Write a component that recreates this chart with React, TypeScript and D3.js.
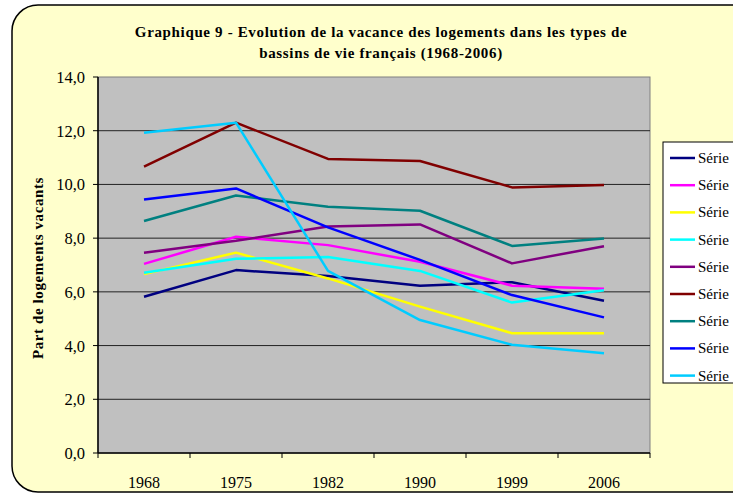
import { useEffect, useRef } from 'react';
import * as d3 from 'd3';

const years = ['1968', '1975', '1982', '1990', '1999', '2006'];
// libellés tronqués par le bord droit dans l'original : seul "Série" est visible
const seriesNames = ['Série', 'Série', 'Série', 'Série', 'Série', 'Série', 'Série', 'Série', 'Série'];
const serie1 = [5.82, 6.81, 6.59, 6.23, 6.36, 5.67];
const serie2 = [7.04, 8.05, 7.74, 7.12, 6.23, 6.12];
const serie3 = [6.66, 7.46, 6.5, 5.45, 4.46, 4.46];
const serie4 = [6.71, 7.23, 7.3, 6.78, 5.6, 6.06];
const serie5 = [7.46, 7.9, 8.43, 8.51, 7.06, 7.7];
const serie6 = [10.66, 12.3, 10.95, 10.87, 9.89, 9.98];
const serie7 = [8.64, 9.59, 9.17, 9.02, 7.71, 7.99];
const serie8 = [9.44, 9.85, 8.4, 7.19, 5.88, 5.05];
const serie9 = [11.92, 12.3, 6.78, 4.95, 4.03, 3.71];
const colors = ['#000080', '#ff00ff', '#ffff00', '#00ffff', '#800080', '#800000', '#008080', '#0000ff', '#00ccff'];
const yTicks = [0, 2, 4, 6, 8, 10, 12, 14];

export default function App() {
  const svgRef = useRef<SVGSVGElement>(null);
  const width = 733;
  const height = 495;

  useEffect(() => {
    const svg = d3.select(svgRef.current);
    svg.selectAll('*').remove();

    const allSeries = [serie1, serie2, serie3, serie4, serie5, serie6, serie7, serie8, serie9];
    const left = 98, right = 650, top = 77, bottom = 453;
    const serif = '"Liberation Serif", "Times New Roman", serif';

    // cadre arrondi
    svg.append('rect')
      .attr('x', 12).attr('y', 5)
      .attr('width', 745).attr('height', 487)
      .attr('rx', 26)
      .style('fill', '#ffffcc')
      .style('stroke', '#000')
      .style('stroke-width', 1.5);

    const x = d3.scaleBand<string>().domain(years).range([left, right]);
    const y = d3.scaleLinear().domain([0, 14]).range([bottom, top]);

    svg.append('rect')
      .attr('x', left).attr('y', top)
      .attr('width', right - left).attr('height', bottom - top)
      .style('fill', '#c0c0c0')
      .style('stroke', '#808080')
      .style('stroke-width', 1);

    // grille
    svg.append('g')
      .selectAll('line')
      .data(yTicks.filter(d => d > 0 && d < 14))
      .enter()
      .append('line')
      .attr('x1', left).attr('x2', right)
      .attr('y1', d => y(d)).attr('y2', d => y(d))
      .style('stroke', '#222')
      .style('stroke-width', 1);

    // axe Y
    svg.append('line')
      .attr('x1', left).attr('x2', left)
      .attr('y1', top).attr('y2', bottom)
      .style('stroke', '#000').style('stroke-width', 1.5);
    svg.append('g')
      .selectAll('line')
      .data(yTicks)
      .enter()
      .append('line')
      .attr('x1', left - 5).attr('x2', left)
      .attr('y1', d => y(d)).attr('y2', d => y(d))
      .style('stroke', '#000');
    svg.append('g')
      .selectAll('text')
      .data(yTicks)
      .enter()
      .append('text')
      .attr('x', left - 13)
      .attr('y', d => y(d) + 6)
      .attr('text-anchor', 'end')
      .style('font-family', serif)
      .style('font-size', '16.5px')
      .text(d => d3.format('.1f')(d).replace('.', ','));

    // axe X
    svg.append('line')
      .attr('x1', left).attr('x2', right)
      .attr('y1', bottom).attr('y2', bottom)
      .style('stroke', '#000').style('stroke-width', 1.5);
    const bounds = [...years.map(d => x(d) as number), right];
    svg.append('g')
      .selectAll('line')
      .data(bounds)
      .enter()
      .append('line')
      .attr('x1', d => d).attr('x2', d => d)
      .attr('y1', bottom).attr('y2', bottom + 5)
      .style('stroke', '#000');
    svg.append('g')
      .selectAll('text')
      .data(years)
      .enter()
      .append('text')
      .attr('x', d => (x(d) as number) + x.bandwidth() / 2)
      .attr('y', 488)
      .attr('text-anchor', 'middle')
      .style('font-family', serif)
      .style('font-size', '16px')
      .text(d => d);

    // courbes
    const line = d3.line<number>()
      .x((_, i) => (x(years[i]) as number) + x.bandwidth() / 2)
      .y(d => y(d));
    svg.append('g')
      .selectAll('path')
      .data(allSeries)
      .enter()
      .append('path')
      .attr('d', d => line(d))
      .style('fill', 'none')
      .style('stroke', (_, i) => colors[i])
      .style('stroke-width', 2.5)
      .style('stroke-linejoin', 'round');

    // titre
    const title = svg.append('text')
      .attr('text-anchor', 'middle')
      .style('font-family', serif)
      .style('font-size', '15px')
      .style('letter-spacing', '0.65px')
      .style('font-weight', 'bold');
    title.append('tspan').attr('x', 381).attr('y', 37)
      .text('Graphique 9 - Evolution de la vacance des logements dans les types de');
    title.append('tspan').attr('x', 381).attr('y', 58)
      .text('bassins de vie français (1968-2006)');

    svg.append('text')
      .attr('transform', `translate(43,268) rotate(-90)`)
      .attr('text-anchor', 'middle')
      .style('font-family', serif)
      .style('font-size', '15px')
      .style('letter-spacing', '0.6px')
      .style('font-weight', 'bold')
      .text('Part de logements vacants');

    // légende
    svg.append('rect')
      .attr('x', 663).attr('y', 142)
      .attr('width', 90).attr('height', 241)
      .style('fill', '#fff')
      .style('stroke', '#000');
    const leg = svg.append('g')
      .selectAll('g')
      .data(seriesNames)
      .enter()
      .append('g')
      .attr('transform', (_, i) => `translate(0,${158 + i * 27.2})`);
    leg.append('line')
      .attr('x1', 670).attr('x2', 695)
      .style('stroke', (_, i) => colors[i])
      .style('stroke-width', 2.5);
    leg.append('text')
      .attr('x', 698).attr('y', 5)
      .style('font-family', serif)
      .style('font-size', '15px')
      .text(d => d);
  }, []);

  return (
    <div style={{ position: 'absolute', top: 0, left: 0, width, height }}>
      <svg ref={svgRef} width={width} height={height} style={{ display: 'block' }} />
    </div>
  );
}
